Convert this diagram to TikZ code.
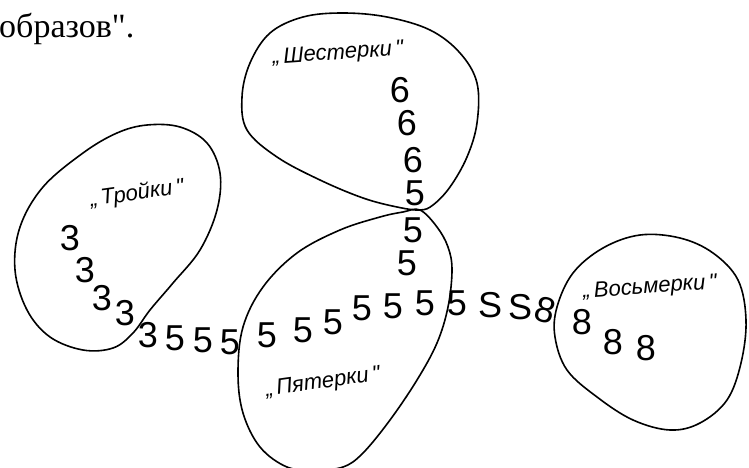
\documentclass[tikz,border=0pt]{standalone}
\usepackage{fontspec}
\setmainfont{Liberation Serif}[Ligatures=TeXOff]
\newfontfamily\handfont{Liberation Sans}[Ligatures=TeXOff]
\usetikzlibrary{positioning}
\tikzset{
  blob/.style={line width=1.6pt, smooth cycle, tension=0.6},
  digit/.style={font=\handfont\fontsize{36}{36}\selectfont, inner sep=0pt},
  tag/.style={font=\handfont\itshape\fontsize{22}{22}\selectfont, inner sep=0pt, rotate=6},
  headtext/.style={font=\fontsize{34}{34}\selectfont, inner sep=0pt, anchor=base west}
}
\begin{document}
\begin{tikzpicture}[x=1pt, y=1pt]
      \useasboundingbox (0,0) rectangle (749,-468);
      \node[headtext] (head) at (-1,-38) {образов".};
      % the four regions
      \draw[blob] plot coordinates {(247,-130) (242,-97) (250,-63) (270,-33) (303,-17) (343,-13) (387,-17)
        (430,-30) (460,-53) (477,-83) (477,-123) (467,-157) (450,-187) (433,-205) (420,-210)
        (397,-207) (363,-198) (320,-180) (277,-157)};
      \draw[blob] plot coordinates {(420,-210) (437,-227) (448,-247) (452,-270) (448,-307) (437,-343)
        (417,-380) (390,-420) (363,-453) (343,-467) (315,-470) (287,-467) (260,-447) (243,-413)
        (238,-373) (243,-327) (263,-287) (297,-253) (340,-230) (380,-217) (403,-212)};
      \draw[blob] plot coordinates {(147,-125) (180,-127) (207,-143) (220,-173) (217,-210) (200,-250)
        (173,-283) (150,-310) (133,-333) (113,-348) (83,-350) (50,-337) (27,-310) (15,-270)
        (20,-227) (43,-187) (83,-153) (117,-133)};
      \draw[blob] plot coordinates {(640,-235) (680,-238) (713,-253) (738,-280) (746,-320) (741,-363)
        (727,-400) (700,-423) (670,-430) (633,-420) (597,-397) (567,-370) (555,-337) (557,-307)
        (573,-273) (603,-248)};
      \node[tag, rotate=-2] (tsix) at (338,-54) {„\,Шестерки\,"};
      \node[tag, rotate=2] (tthree) at (137,-194) {„\,Тройки\,"};
      \node[tag, rotate=2] (tfive) at (323,-383) {„\,Пятерки\,"};
      \node[tag, rotate=-2] (teight) at (650,-288) {„\,Восьмерки\,"};
      % digits
      \foreach \x/\y [count=\i] in {400/90, 407/123, 413/160}
        \node[digit] (six\i) at (\x,-\y) {6};
      \foreach \x/\y [count=\i] in {415/193, 413/230, 407/263, 267/335, 303/330, 333/322,
          362/308, 393/306, 425/303, 457/303, 175/338, 203/340, 230/342}
        \node[digit] (five\i) at (\x,-\y) {5};
      \foreach \x/\y [count=\i] in {70/238, 85/270, 102/298, 125/313, 148/335}
        \node[digit] (three\i) at (\x,-\y) {3};
      \node[digit] (ess1) at (490,-305) {S};
      \node[digit] (ess2) at (520,-307) {S};
      \node[digit, rotate=-15] (eight0) at (545,-310) {8};
      \foreach \x/\y [count=\i] in {582/322, 613/342, 646/348}
        \node[digit] (eight\i) at (\x,-\y) {8};
    \end{tikzpicture}
\end{document}
